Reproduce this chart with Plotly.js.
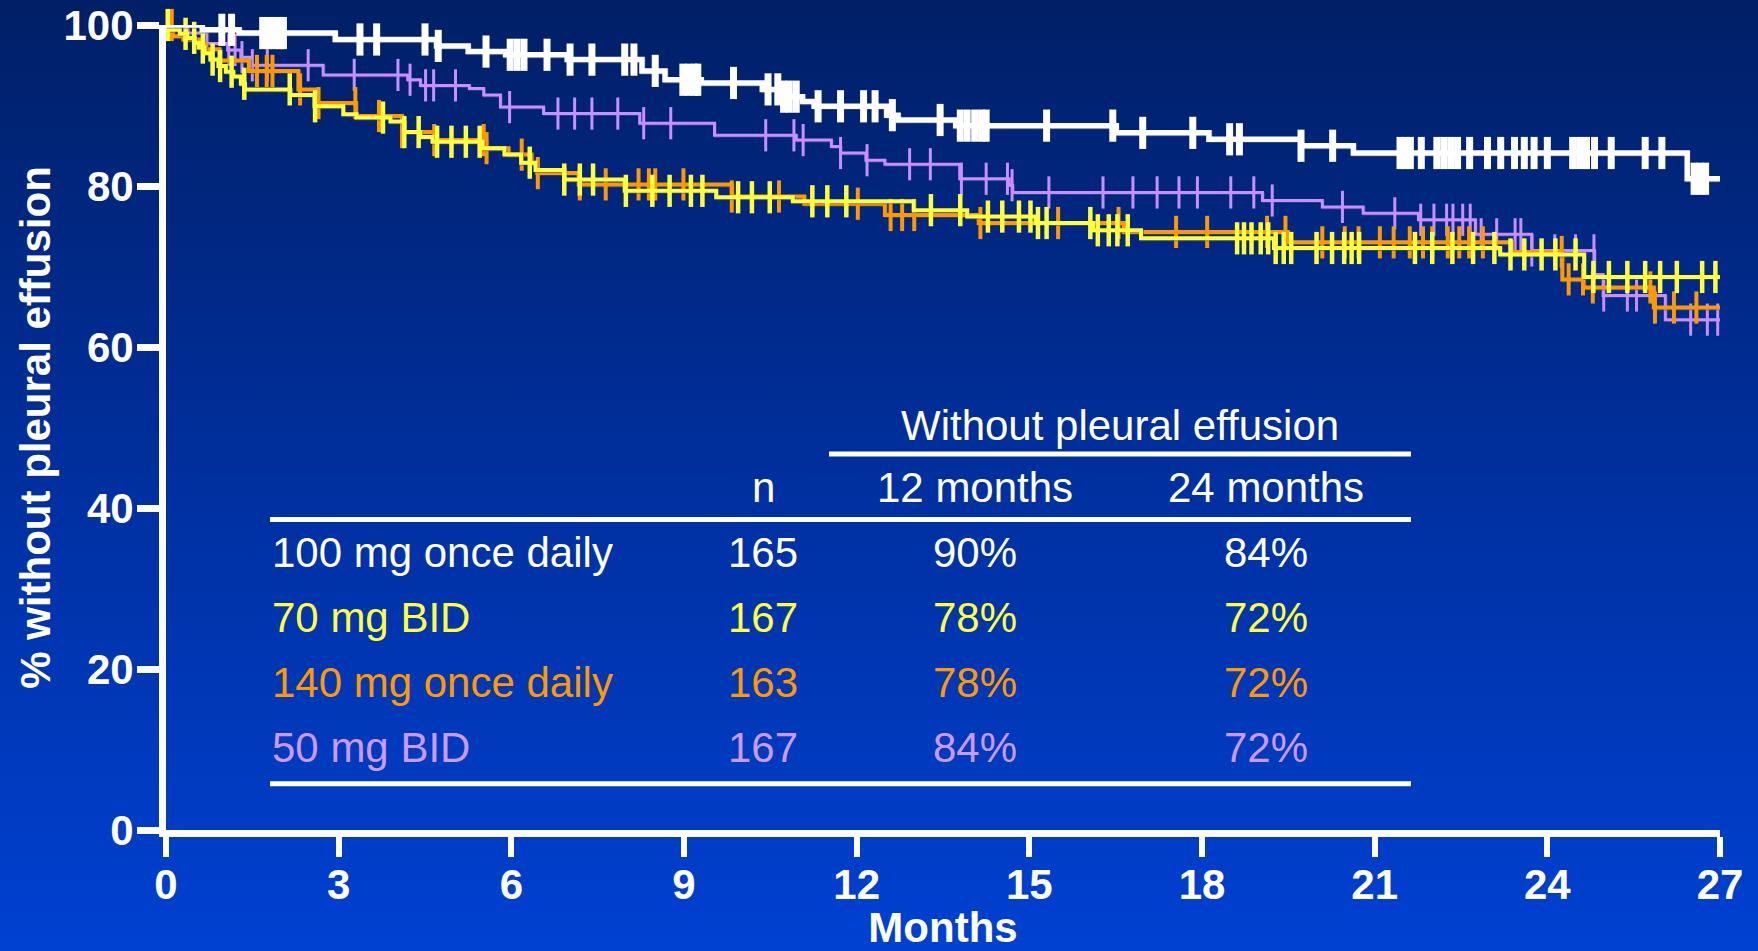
<!DOCTYPE html>
<html>
<head>
<meta charset="utf-8">
<script src="https://cdn.plot.ly/plotly-3.0.1.min.js"></script>
<style>
  html, body {
    margin: 0;
    padding: 0;
    width: 1758px;
    height: 951px;
    overflow: hidden;
    background: linear-gradient(to bottom, #001f66 0%, #0031a4 55%, #0041d2 100%);
  }
  #chart { width: 1758px; height: 951px; }
  /* soft drop shadow under the survival curves */
  .scatterlayer .js-line { filter: drop-shadow(1.5px 1.5px 0 rgba(70, 80, 140, 0.55)); }
</style>
</head>
<body>
<div id="chart"></div>
<script>
// ---- Kaplan-Meier data: time of each step (months) and % without pleural effusion after it ----
const followUpEnd = 27;

// 100 mg once daily
const qd100Times = [0, 0.63, 1.27, 2.94, 4.70, 5.25, 5.90, 6.97, 8.27, 8.67, 9.30, 10.36, 10.66, 11.06, 11.26, 12.52, 12.72, 13.72, 16.51, 18.12, 19.72, 20.63, 26.43];
const qd100Surv  = [100, 99.4, 99.0, 98.2, 97.4, 96.7, 96.3, 95.7, 94.3, 93.2, 92.8, 92.0, 91.1, 90.5, 89.9, 88.8, 88.2, 87.5, 86.6, 85.8, 85.0, 84.1, 80.9];
const qd100Censored = [0.97, 1.14, 1.68, 1.78, 1.88, 1.98, 2.04, 3.37, 3.66, 4.50, 4.73, 5.56, 5.98, 6.10, 6.22, 6.62, 7.02, 7.40, 7.97, 8.13, 8.50, 8.98, 9.08, 9.18, 9.24, 9.86, 10.46, 10.63, 10.73, 10.83, 10.95, 11.33, 11.72, 12.12, 12.32, 12.62, 13.45, 13.80, 13.92, 14.05, 14.17, 14.25, 15.30, 16.45, 16.97, 17.84, 18.48, 18.65, 19.72, 20.27, 21.44, 21.53, 21.62, 21.81, 22.08, 22.20, 22.32, 22.44, 22.65, 22.96, 23.19, 23.43, 23.60, 23.77, 24.00, 24.44, 24.56, 24.68, 24.82, 25.11, 25.70, 25.99, 26.55, 26.65, 26.75];

// 70 mg BID
const bid70Times = [0, 0.04, 0.24, 0.37, 0.50, 0.57, 0.67, 0.77, 0.91, 1.04, 1.17, 1.30, 1.37, 2.16, 2.58, 3.08, 3.31, 3.90, 4.14, 4.42, 4.63, 5.50, 5.88, 6.17, 6.42, 6.92, 7.97, 9.56, 10.89, 12.99, 13.92, 15.11, 16.11, 16.94, 19.25, 23.18, 24.64];
const bid70Surv  = [100, 99.4, 98.9, 98.4, 97.8, 97.2, 96.5, 95.7, 94.9, 94.2, 93.6, 92.7, 92.0, 91.3, 89.9, 88.9, 88.5, 88.0, 86.7, 86.1, 85.5, 84.7, 83.9, 82.9, 82.0, 80.8, 79.4, 78.6, 78.1, 77.0, 76.2, 75.4, 74.5, 73.5, 72.3, 71.5, 68.7];
const bid70Censored = [0.03, 0.34, 0.49, 0.64, 0.81, 0.94, 1.14, 1.36, 2.15, 2.59, 3.77, 4.14, 4.39, 4.71, 4.96, 5.21, 5.45, 6.32, 6.92, 7.19, 7.42, 7.99, 8.45, 8.75, 9.12, 9.32, 9.94, 10.18, 10.49, 11.23, 11.49, 11.82, 13.29, 13.80, 14.28, 14.53, 14.82, 15.02, 15.15, 15.30, 16.06, 16.19, 16.38, 16.53, 16.71, 18.61, 18.73, 18.86, 19.02, 19.15, 19.28, 19.42, 19.55, 19.99, 20.26, 20.47, 20.60, 20.73, 21.70, 22.00, 22.35, 22.71, 23.08, 23.36, 23.60, 23.90, 24.14, 24.49, 24.80, 25.07, 25.39, 25.70, 25.96, 26.25, 26.69, 26.92];

// 140 mg once daily
const qd140Times = [0, 0.12, 0.30, 0.57, 0.70, 0.93, 1.44, 2.30, 2.62, 3.30, 4.10, 4.66, 5.56, 5.95, 6.35, 6.45, 7.17, 9.83, 11.09, 12.49, 14.12, 16.64, 19.49, 23.38, 24.26, 24.63, 25.85];
const qd140Surv  = [100, 98.6, 98.2, 97.6, 97.0, 95.6, 94.3, 92.0, 90.3, 88.7, 86.7, 85.7, 84.7, 83.9, 82.8, 81.6, 80.2, 78.7, 77.8, 76.4, 75.4, 74.3, 73.0, 71.8, 68.4, 67.4, 64.9];
const qd140Censored = [0.10, 1.58, 1.75, 1.85, 2.33, 2.65, 3.29, 3.70, 4.10, 4.66, 5.52, 5.57, 6.18, 6.46, 7.19, 7.64, 8.21, 8.39, 8.50, 8.99, 9.83, 10.65, 12.02, 12.59, 12.79, 13.00, 14.15, 15.50, 16.55, 17.55, 18.09, 19.13, 19.45, 20.09, 20.48, 20.72, 21.09, 21.33, 21.61, 21.84, 22.00, 22.27, 22.47, 22.64, 22.88, 24.25, 24.37, 24.62, 24.79, 25.79, 25.87, 26.20, 26.59];

// 50 mg BID
const bid50Times = [0, 0.38, 0.71, 1.07, 1.30, 1.46, 2.73, 4.20, 4.42, 5.27, 5.52, 5.81, 6.56, 8.23, 9.53, 10.95, 11.56, 11.72, 12.16, 12.49, 13.79, 14.65, 14.71, 19.05, 20.09, 20.80, 21.76, 22.75, 23.73, 24.82, 24.97, 26.05];
const bid50Surv  = [100, 99.0, 97.7, 96.9, 96.0, 95.0, 93.8, 93.2, 92.5, 92.1, 91.3, 89.8, 89.0, 87.8, 86.3, 85.7, 84.9, 84.1, 83.2, 82.7, 80.9, 80.1, 79.2, 78.2, 77.4, 76.6, 75.8, 74.0, 72.0, 69.0, 66.4, 63.4];
const bid50Censored = [1.09, 1.20, 1.32, 1.50, 1.76, 2.47, 3.27, 4.03, 4.24, 4.51, 4.65, 5.03, 5.97, 6.81, 7.10, 7.40, 7.85, 8.30, 8.77, 10.42, 10.91, 11.07, 11.72, 12.18, 12.92, 13.28, 13.82, 14.25, 14.62, 14.70, 15.34, 16.28, 16.80, 17.22, 17.60, 17.92, 18.50, 18.90, 19.22, 20.44, 21.35, 21.80, 22.03, 22.25, 22.36, 22.53, 22.66, 22.85, 23.12, 23.44, 23.54, 23.73, 24.13, 24.49, 24.81, 24.98, 25.39, 25.55, 26.49, 26.78, 26.96];

// ---- Summary table ----
const armLabels   = ['100 mg once daily', '70 mg BID', '140 mg once daily', '50 mg BID'];
const armN        = [165, 167, 163, 167];
const armAt12     = ['90%', '78%', '78%', '84%'];
const armAt24     = ['84%', '72%', '72%', '72%'];
const tableHeader = 'Without pleural effusion';
const colHeaders  = ['n', '12 months', '24 months'];

// ---- Axes ----
const xTicks = [0, 3, 6, 9, 12, 15, 18, 21, 24, 27];
const yTicks = [0, 20, 40, 60, 80, 100];

// ---- Styling ----
const COLORS = { qd100: '#ffffff', bid70: '#ffff3c', qd140: '#ff9900', bid50: '#c98fff' };
const TEXT_COLORS = ['#ffffff', '#ffff40', '#ff9900', '#cc99ff'];
const FONT = 'Liberation Sans, Arial, Helvetica, sans-serif';

function survivalAt(times, surv, t) {
  let v = surv[0];
  for (let i = 0; i < times.length; i++) if (times[i] <= t + 1e-9) v = surv[i];
  return v;
}

function arm(times, surv, censored, color, lineWidth, tickWidth) {
  const line = {
    type: 'scatter', mode: 'lines',
    x: times.concat([followUpEnd]),
    y: surv.concat([surv[surv.length - 1]]),
    line: { shape: 'hv', color: color, width: lineWidth },
    cliponaxis: false, hoverinfo: 'skip', showlegend: false
  };
  const ticks = {
    type: 'scatter', mode: 'markers',
    x: censored,
    y: censored.map(t => survivalAt(times, surv, t)),
    marker: { symbol: 'line-ns', size: 23, line: { color: color, width: tickWidth } },
    cliponaxis: false, hoverinfo: 'skip', showlegend: false
  };
  return [line, ticks];
}

const data = [].concat(
  arm(bid50Times, bid50Surv, bid50Censored, COLORS.bid50, 3, 3),
  arm(qd140Times, qd140Surv, qd140Censored, COLORS.qd140, 4, 4),
  arm(bid70Times, bid70Surv, bid70Censored, COLORS.bid70, 4, 4.5),
  arm(qd100Times, qd100Surv, qd100Censored, COLORS.qd100, 5.5, 7)
);

// page geometry
const W = 1758, H = 951;
const M = { l: 166, r: 38, t: 25, b: 121 };
const plotW = W - M.l - M.r, plotH = H - M.t - M.b;
const px = x => (x - M.l) / plotW;          // page x (px) -> paper
const py = y => (H - M.b - y) / plotH;      // page y (px) -> paper

// table layout (page pixels)
const TBL = {
  left: 270, right: 1411, groupLeft: 829,
  colX: [763, 975, 1266],
  headerY: 425, colHeaderY: 487, rowY0: 552, rowStep: 65.3,
  ruleTop: 454, ruleMid: 519.5, ruleBottom: 783.7
};

const annotations = [];
const textFont = (color) => ({ family: FONT, size: 42, color: color });
function addText(text, x, y, anchor, color) {
  annotations.push({
    text: text, xref: 'paper', yref: 'paper', x: px(x), y: py(y),
    xanchor: anchor, yanchor: 'middle', showarrow: false, font: textFont(color)
  });
}
addText(tableHeader, (TBL.groupLeft + TBL.right) / 2, TBL.headerY, 'center', '#ffffff');
colHeaders.forEach((h, i) => addText(h, TBL.colX[i], TBL.colHeaderY, 'center', '#ffffff'));
armLabels.forEach((lab, r) => {
  const y = TBL.rowY0 + r * TBL.rowStep;
  const c = TEXT_COLORS[r];
  addText(lab, TBL.left, y, 'left', c);
  addText(String(armN[r]), TBL.colX[0], y, 'center', c);
  addText(armAt12[r], TBL.colX[1], y, 'center', c);
  addText(armAt24[r], TBL.colX[2], y, 'center', c);
});

const rule = (x0, x1, y) => ({
  type: 'line', xref: 'paper', yref: 'paper',
  x0: px(x0), x1: px(x1), y0: py(y), y1: py(y),
  line: { color: '#ffffff', width: 5 }
});
const shapes = [
  rule(TBL.groupLeft, TBL.right, TBL.ruleTop),
  rule(TBL.left, TBL.right, TBL.ruleMid),
  rule(TBL.left, TBL.right, TBL.ruleBottom)
];

const axisFont = { family: FONT, size: 42, color: '#ffffff', weight: 'bold' };

const layout = {
  width: W, height: H,
  margin: M,
  paper_bgcolor: 'rgba(0,0,0,0)',
  plot_bgcolor: 'rgba(0,0,0,0)',
  showlegend: false,
  xaxis: {
    range: [0, 27], tickvals: xTicks, ticktext: xTicks.map(String),
    ticks: 'outside', ticklen: 20, tickwidth: 6, tickcolor: '#ffffff',
    showline: true, linewidth: 7, linecolor: '#ffffff',
    showgrid: false, zeroline: false, fixedrange: true,
    tickfont: axisFont, ticklabelstandoff: -8,
    title: { text: 'Months', font: axisFont, standoff: 16 }
  },
  yaxis: {
    range: [0, 100], tickvals: yTicks, ticktext: yTicks.map(String),
    ticks: 'outside', ticklen: 22, tickwidth: 7, tickcolor: '#ffffff',
    showline: true, linewidth: 7, linecolor: '#ffffff',
    showgrid: false, zeroline: false, fixedrange: true,
    tickfont: axisFont, ticklabelstandoff: -5,
    title: { text: '% without pleural effusion', font: axisFont, standoff: 2 }
  },
  annotations: annotations,
  shapes: shapes
};

Plotly.newPlot('chart', data, layout, { staticPlot: true, displayModeBar: false });
</script>
</body>
</html>
